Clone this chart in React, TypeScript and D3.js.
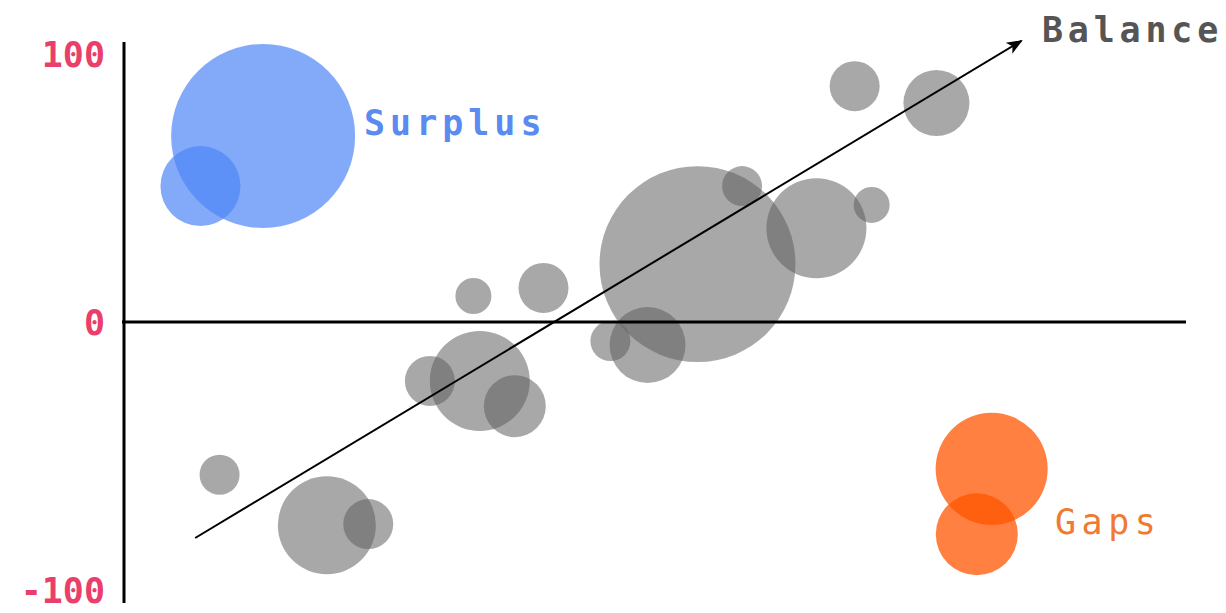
import React from "react";
import * as d3 from "d3";

const grayX = [68.8, 76.5, 58.2, 70.4, 65.2, 54.0, 39.5, 32.9, 45.8, 49.3, 33.5, 28.8, 36.8, 9.0, 19.1, 23.0];
const grayY = [88.0, 81.7, 50.7, 43.7, 35.0, 21.6, 12.7, 9.7, -7.1, -8.6, -22.0, -22.0, -31.4, -57.0, -75.8, -75.4];
const graySize = [6.25, 10.9, 4.0, 3.24, 25, 96, 6.25, 3.24, 4.0, 14.4, 25, 6.25, 9.6, 4.0, 24, 6.25];

const surplusX = [13.1, 7.2];
const surplusY = [69.4, 50.7];
const surplusSize = [84.6, 16];

const gapsX = [81.7, 80.3];
const gapsY = [-54.8, -79.2];
const gapsSize = [31.4, 16.8];

const yTicks = [100, 0, -100];
const trendStart = [6.7, -80.6];
const trendEnd = [84.5, 104.9];

export default function App() {
  const W = 1226, H = 613;
  const x = d3.scaleLinear().domain([0, 100]).range([124, 1186]);
  const y = d3.scaleLinear().domain([-100, 100]).range([590, 54]);
  const r = d3.scaleSqrt().domain([0, 100]).range([0, 100]);
  const mono = "'DejaVu Sans Mono', 'Liberation Mono', monospace";

  const circles = (xs: number[], ys: number[], ss: number[], fill: string, op: number, key: string) =>
    xs.map((v, i) => (
      <circle key={key + i} cx={x(v)} cy={y(ys[i])} r={r(ss[i])} fill={fill} fillOpacity={op} />
    ));

  return (
    <svg width={W} height={H} style={{ position: "absolute", left: 0, top: 0, background: "#fff" }}>
      <defs>
        <marker id="arr" viewBox="0 0 10 10" refX="9" refY="5" markerWidth="8" markerHeight="8" orient="auto">
          <path d="M0,1 L10,5 L0,9 L2.5,5 Z" fill="#000" />
        </marker>
      </defs>
      {circles(grayX, grayY, graySize, "#5e5e5e", 0.54, "g")}
      {circles(surplusX, surplusY, surplusSize, "#4f86f7", 0.7, "s")}
      {circles(gapsX, gapsY, gapsSize, "#ff5500", 0.75, "o")}
      <line x1={x(0)} x2={x(0)} y1={42} y2={603} stroke="#000" strokeWidth={3} />
      <line x1={x(0) - 2} x2={x(100)} y1={y(0)} y2={y(0)} stroke="#000" strokeWidth={3} />
      <line x1={x(trendStart[0])} y1={y(trendStart[1])} x2={x(trendEnd[0])} y2={y(trendEnd[1])}
        stroke="#000" strokeWidth={2} markerEnd="url(#arr)" />
      {yTicks.map((t) => (
        <text key={t} x={105} y={y(t)} dy="0.36em" textAnchor="end" fontFamily={mono} fontWeight="bold"
          fontSize={35} fill="#ea3f6b">{t}</text>
      ))}
      <text x={1042} y={42} fontFamily={mono} fontWeight="bold" fontSize={35} fill="#555" letterSpacing={4.8}>Balance</text>
      <text x={364} y={135} fontFamily={mono} fontWeight="bold" fontSize={35} fill="#5b8af0" letterSpacing={5}>Surplus</text>
      <text x={1055} y={534} fontFamily={mono} fontWeight="normal" fontSize={35} fill="#f07a30" letterSpacing={5.5}>Gaps</text>
    </svg>
  );
}
